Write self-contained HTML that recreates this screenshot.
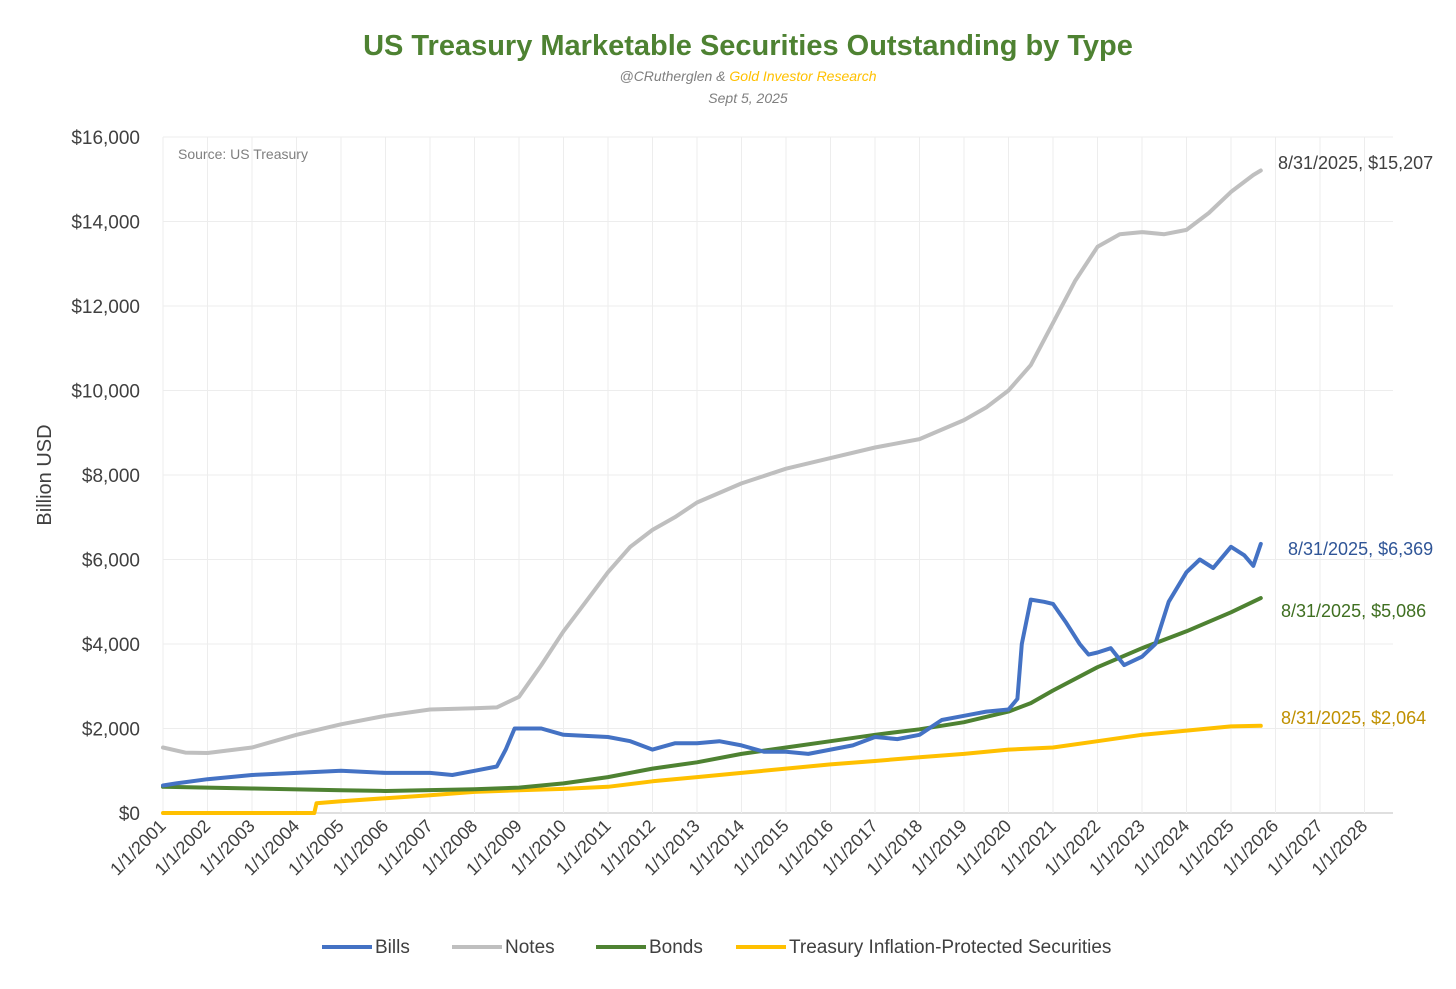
<!DOCTYPE html>
<html><head><meta charset="utf-8">
<style>
body{margin:0;background:#fff;font-family:"Liberation Sans",sans-serif;}
svg text{font-family:"Liberation Sans",sans-serif;}
</style></head>
<body>
<svg id="chart" width="1456" height="984" viewBox="0 0 1456 984" xmlns="http://www.w3.org/2000/svg">
<rect width="1456" height="984" fill="#fff"/>
<text x="748" y="55" text-anchor="middle" font-size="29" font-weight="bold" fill="#4E8232">US Treasury Marketable Securities Outstanding by Type</text>
<text x="748" y="81" text-anchor="middle" font-size="14" font-style="italic" fill="#7F7F7F">@CRutherglen &amp; <tspan fill="#FFC000">Gold Investor Research</tspan></text>
<text x="748" y="103" text-anchor="middle" font-size="14" font-style="italic" fill="#7F7F7F">Sept 5, 2025</text>
<g id="grid"></g>
<g id="axes"></g>
<g id="series"></g>
<text x="178" y="159" font-size="14" fill="#7F7F7F">Source: US Treasury</text>
<text transform="translate(51,475) rotate(-90)" text-anchor="middle" font-size="20" fill="#404040">Billion USD</text>
<g id="legend"></g>
</svg>
<script>
const yTicks=[0,2000,4000,6000,8000,10000,12000,14000,16000];
const xYears=[2001,2002,2003,2004,2005,2006,2007,2008,2009,2010,2011,2012,2013,2014,2015,2016,2017,2018,2019,2020,2021,2022,2023,2024,2025,2026,2027,2028];
const notesT=[2001,2001.5,2002,2003,2004,2005,2006,2007,2008,2008.5,2009,2009.5,2010,2010.5,2011,2011.5,2012,2012.5,2013,2014,2015,2016,2017,2018,2019,2019.5,2020,2020.5,2021,2021.5,2022,2022.5,2023,2023.5,2024,2024.5,2025,2025.5,2025.67];
const notesV=[1550,1430,1420,1550,1850,2100,2300,2450,2480,2500,2750,3500,4300,5000,5700,6300,6700,7000,7350,7800,8150,8400,8650,8850,9300,9600,10000,10600,11600,12600,13400,13700,13750,13700,13800,14200,14700,15100,15207];
const billsT=[2001,2001.3,2002,2003,2004,2005,2006,2007,2007.5,2008,2008.5,2008.7,2008.9,2009.5,2010,2011,2011.5,2012,2012.5,2013,2013.5,2014,2014.5,2015,2015.5,2016,2016.5,2017,2017.5,2018,2018.5,2019,2019.5,2020,2020.2,2020.3,2020.5,2020.8,2021,2021.3,2021.6,2021.8,2022,2022.3,2022.6,2023,2023.3,2023.6,2024,2024.3,2024.6,2025,2025.3,2025.5,2025.67];
const billsV=[650,700,800,900,950,1000,950,950,900,1000,1100,1500,2000,2000,1850,1800,1700,1500,1650,1650,1700,1600,1450,1450,1400,1500,1600,1800,1750,1850,2200,2300,2400,2450,2700,4000,5050,5000,4950,4500,4000,3750,3800,3900,3500,3700,4000,5000,5700,6000,5800,6300,6100,5850,6369];
const bondsT=[2001,2003,2005,2006,2008,2009,2010,2011,2012,2013,2014,2015,2016,2017,2018,2019,2020,2020.5,2021,2022,2023,2024,2025,2025.67];
const bondsV=[620,580,540,520,560,600,700,850,1050,1200,1400,1550,1700,1850,1980,2150,2400,2600,2900,3450,3900,4300,4750,5086];
const tipsT=[2001,2004.4,2004.45,2005,2006,2007,2008,2009,2010,2011,2012,2013,2014,2015,2016,2017,2018,2019,2020,2021,2022,2023,2024,2025,2025.67];
const tipsV=[0,0,230,280,350,420,500,540,570,620,750,850,950,1050,1150,1230,1320,1400,1500,1550,1700,1850,1950,2050,2064];
const NS="http://www.w3.org/2000/svg";
const X0=163,PXY=44.5,Y0=813,PXV=676/16000;
const xs=t=>X0+(t-2001)*PXY, ys=v=>Y0-v*PXV;
function mk(tag,attrs,parent){const e=document.createElementNS(NS,tag);for(const k in attrs)e.setAttribute(k,attrs[k]);parent.appendChild(e);return e;}
const grid=document.getElementById('grid'),axes=document.getElementById('axes'),ser=document.getElementById('series'),leg=document.getElementById('legend');
yTicks.forEach(v=>{
 const l=mk('line',{x1:X0,x2:1393,y1:ys(v),y2:ys(v),stroke:v===0?'#BFBFBF':'#EDEDED','stroke-width':1},grid);
 
 
 const t=mk('text',{x:140,y:ys(v)+7,'text-anchor':'end','font-size':19,fill:'#404040'},axes);
 t.textContent='$'+v.toLocaleString('en-US');
 
 
});
xYears.forEach(y=>{
 const x=xs(y);
 const l=mk('line',{x1:x,x2:x,y1:ys(16000),y2:Y0,stroke:'#EDEDED','stroke-width':1},grid);
 
 
 const t=mk('text',{x:0,y:0,'text-anchor':'end','font-size':18,fill:'#404040',transform:`translate(${x+4},${Y0+14}) rotate(-45)`},axes);
 t.textContent='1/1/'+y;
 
 
});
const series=[
 {n:'notes',T:notesT,V:notesV,c:'#BFBFBF',lab:'8/31/2025, $15,207',lc:'#404040',ly:169,lx:1278},
 {n:'tips',T:tipsT,V:tipsV,c:'#FFC000',lab:'8/31/2025, $2,064',lc:'#BF9000',ly:724,lx:1281},
 {n:'bonds',T:bondsT,V:bondsV,c:'#4E8232',lab:'8/31/2025, $5,086',lc:'#3F6F21',ly:617,lx:1281},
 {n:'bills',T:billsT,V:billsV,c:'#4472C4',lab:'8/31/2025, $6,369',lc:'#2F5597',ly:555,lx:1288}
];
series.forEach(s=>{
 const d=s.T.map((t,i)=>(i?'L':'M')+xs(t).toFixed(1)+','+ys(s.V[i]).toFixed(1)).join('');
 const p=mk('path',{d:d,fill:'none',stroke:s.c,'stroke-width':4,'stroke-linejoin':'round','stroke-linecap':'round'},ser);
 
 
 const t=mk('text',{x:s.lx,y:s.ly,'font-size':18,fill:s.lc},ser);
 t.textContent=s.lab;
 
 
});
const legItems=[['Bills','#4472C4',322],['Notes','#BFBFBF',452],['Bonds','#4E8232',596],['Treasury Inflation-Protected Securities','#FFC000',736]];
legItems.forEach(it=>{
 const g=mk('g',{},leg);
 
 
 mk('line',{x1:it[2],x2:it[2]+50,y1:947,y2:947,stroke:it[1],'stroke-width':4},g);
 const t=mk('text',{x:it[2]+53,y:953,'font-size':19,fill:'#404040'},g);
 t.textContent=it[0];
});
</script>
</body></html>
